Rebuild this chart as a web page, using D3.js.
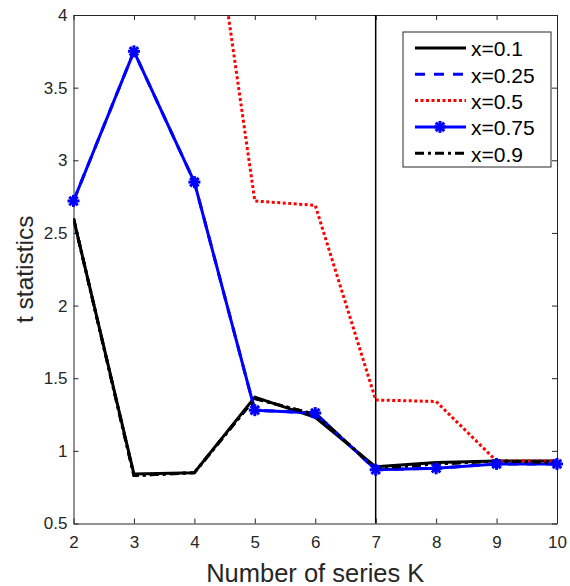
<!DOCTYPE html>
<html>
<head>
<meta charset="utf-8">
<script src="https://cdn.jsdelivr.net/npm/d3@7"></script>
<style>
    body { margin: 0; background: #fff; }
    svg { font-family: "Liberation Sans", Arial, sans-serif; }
</style>
</head>
<body>
<svg id="canvas"></svg>
<script>
var w = 570
var h = 586

// ########## Data ##########
var kValues = [2, 3, 4, 5, 6, 7, 8, 9, 10];
var x01  = [2.60, 0.84, 0.85, 1.37, 1.23, 0.89, 0.92, 0.93, 0.93];
var x025 = [2.72, 3.75, 2.85, 1.28, 1.26, 0.87, 0.88, 0.91, 0.91];
var x05  = [9.10, 7.40, 5.63, 2.72, 2.69, 1.35, 1.34, 0.93, 0.93];
var x075 = [2.72, 3.75, 2.85, 1.28, 1.26, 0.87, 0.88, 0.91, 0.91];
var x09  = [2.60, 0.83, 0.85, 1.36, 1.25, 0.88, 0.91, 0.93, 0.92];
var xTicks = [2, 3, 4, 5, 6, 7, 8, 9, 10];
var yTicks = [0.5, 1, 1.5, 2, 2.5, 3, 3.5, 4];
var markerK = 7;

var series = [
    { name: "x=0.1",  values: x01,  color: "#000", dash: null,      width: 3, marker: false },
    { name: "x=0.25", values: x025, color: "#00f", dash: "10,9",    width: 3, marker: false },
    { name: "x=0.5",  values: x05,  color: "#f00", dash: "3,2.5",   width: 3, marker: false },
    { name: "x=0.75", values: x075, color: "#00f", dash: null,      width: 3, marker: true },
    { name: "x=0.9",  values: x09,  color: "#000", dash: "9,4,3,4", width: 3, marker: false }
];

// ########## SVG ##########
var margin = { left: 73.5, right: 13, top: 15, bottom: 62.5 };

var svg = d3.select("#canvas")
    .attr("width", w)
    .attr("height", h);

var x = d3.scaleLinear().domain([2, 10]).range([margin.left, w - margin.right]);
var y = d3.scaleLinear().domain([0.5, 4]).range([h - margin.bottom, margin.top]);

svg.append("clipPath").attr("id", "clip")
    .append("rect")
    .attr("x", x(2)).attr("y", y(4))
    .attr("width", x(10) - x(2)).attr("height", y(0.5) - y(4));

// ########## Axes ##########
var axisColor = "#262626";

var xAxis = svg.append("g")
    .attr("transform", "translate(0," + y(0.5) + ")")
    .call(d3.axisBottom(x).tickValues(xTicks).tickSizeInner(-5).tickSizeOuter(0).tickPadding(12));
var xTop = svg.append("g")
    .attr("transform", "translate(0," + y(4) + ")")
    .call(d3.axisTop(x).tickValues(xTicks).tickSizeInner(-5).tickSizeOuter(0).tickFormat(""));
var yAxis = svg.append("g")
    .attr("transform", "translate(" + x(2) + ",0)")
    .call(d3.axisLeft(y).tickValues(yTicks).tickSizeInner(-5).tickSizeOuter(0).tickPadding(6).tickFormat(d3.format("")));
var yRight = svg.append("g")
    .attr("transform", "translate(" + x(10) + ",0)")
    .call(d3.axisRight(y).tickValues(yTicks).tickSizeInner(-5).tickSizeOuter(0).tickFormat(""));

[xAxis, xTop, yAxis, yRight].forEach(function (a) {
    a.selectAll("path, line").attr("stroke", axisColor).attr("stroke-width", 1);
    a.selectAll("text").attr("fill", axisColor).style("font-size", "17px")
        .style("font-family", "'Liberation Sans', Arial, sans-serif");
});
xAxis.selectAll("text").attr("dy", "0.71em");

// ########## Lines ##########
var plot = svg.append("g").attr("clip-path", "url(#clip)");

plot.append("line")
    .attr("x1", x(markerK)).attr("x2", x(markerK))
    .attr("y1", y(0.5)).attr("y2", y(4))
    .attr("stroke", "#000").attr("stroke-width", 1.5);

var line = d3.line()
    .x(function (d, i) { return x(kValues[i]); })
    .y(function (d) { return y(d); });

function asterisk(g, cx, cy, r, color) {
    for (var a = 0; a < 4; a++) {
        var ang = a * Math.PI / 4;
        g.append("line")
            .attr("x1", cx - r * Math.cos(ang)).attr("y1", cy - r * Math.sin(ang))
            .attr("x2", cx + r * Math.cos(ang)).attr("y2", cy + r * Math.sin(ang))
            .attr("stroke", color).attr("stroke-width", 3);
    }
    g.append("circle").attr("cx", cx).attr("cy", cy).attr("r", 3).attr("fill", color);
}

series.forEach(function (s) {
    plot.append("path")
        .datum(s.values)
        .attr("d", line)
        .attr("fill", "none")
        .attr("stroke", s.color)
        .attr("stroke-width", s.width)
        .attr("stroke-dasharray", s.dash)
        .attr("stroke-linejoin", "round");
});

series.filter(function (s) { return s.marker; }).forEach(function (s) {
    var mg = svg.append("g");
    s.values.forEach(function (v, i) {
        if (v <= 4) asterisk(mg, x(kValues[i]), y(v), 6, s.color);
    });
});

// dash-dot black sits on top in the reference
plot.append("path")
    .datum(x09)
    .attr("d", line)
    .attr("fill", "none")
    .attr("stroke", "#000")
    .attr("stroke-width", 3)
    .attr("stroke-dasharray", "9,4,3,4");

// ########## Legend ##########
var lx = 403, ly = 32, lw = 148, lh = 135;
var legend = svg.append("g");
legend.append("rect")
    .attr("x", lx).attr("y", ly).attr("width", lw).attr("height", lh)
    .attr("fill", "#fff").attr("stroke", axisColor).attr("stroke-width", 1);

series.forEach(function (s, i) {
    var yy = ly + 16 + i * 26.3;
    legend.append("line")
        .attr("x1", lx + 12).attr("x2", lx + 63)
        .attr("y1", yy).attr("y2", yy)
        .attr("stroke", s.color)
        .attr("stroke-width", s.width)
        .attr("stroke-dasharray", s.dash);
    if (s.marker) asterisk(legend, lx + 37, yy, 6, s.color);
    legend.append("text")
        .attr("x", lx + 68).attr("y", yy + 1)
        .attr("dy", "0.35em")
        .style("font-size", "21px")
        .attr("fill", "#000")
        .text(s.name);
});

// ########## Labels ##########
svg.append("text")
    .attr("x", (x(2) + x(10)) / 2)
    .attr("y", 582)
    .attr("text-anchor", "middle")
    .style("font-size", "25.5px")
    .attr("fill", axisColor)
    .text("Number of series K");

svg.append("text")
    .attr("transform", "translate(33," + ((y(0.5) + y(4)) / 2) + ") rotate(-90)")
    .attr("text-anchor", "middle")
    .style("font-size", "24.5px")
    .attr("fill", axisColor)
    .text("t statistics");
</script>
</body>
</html>
